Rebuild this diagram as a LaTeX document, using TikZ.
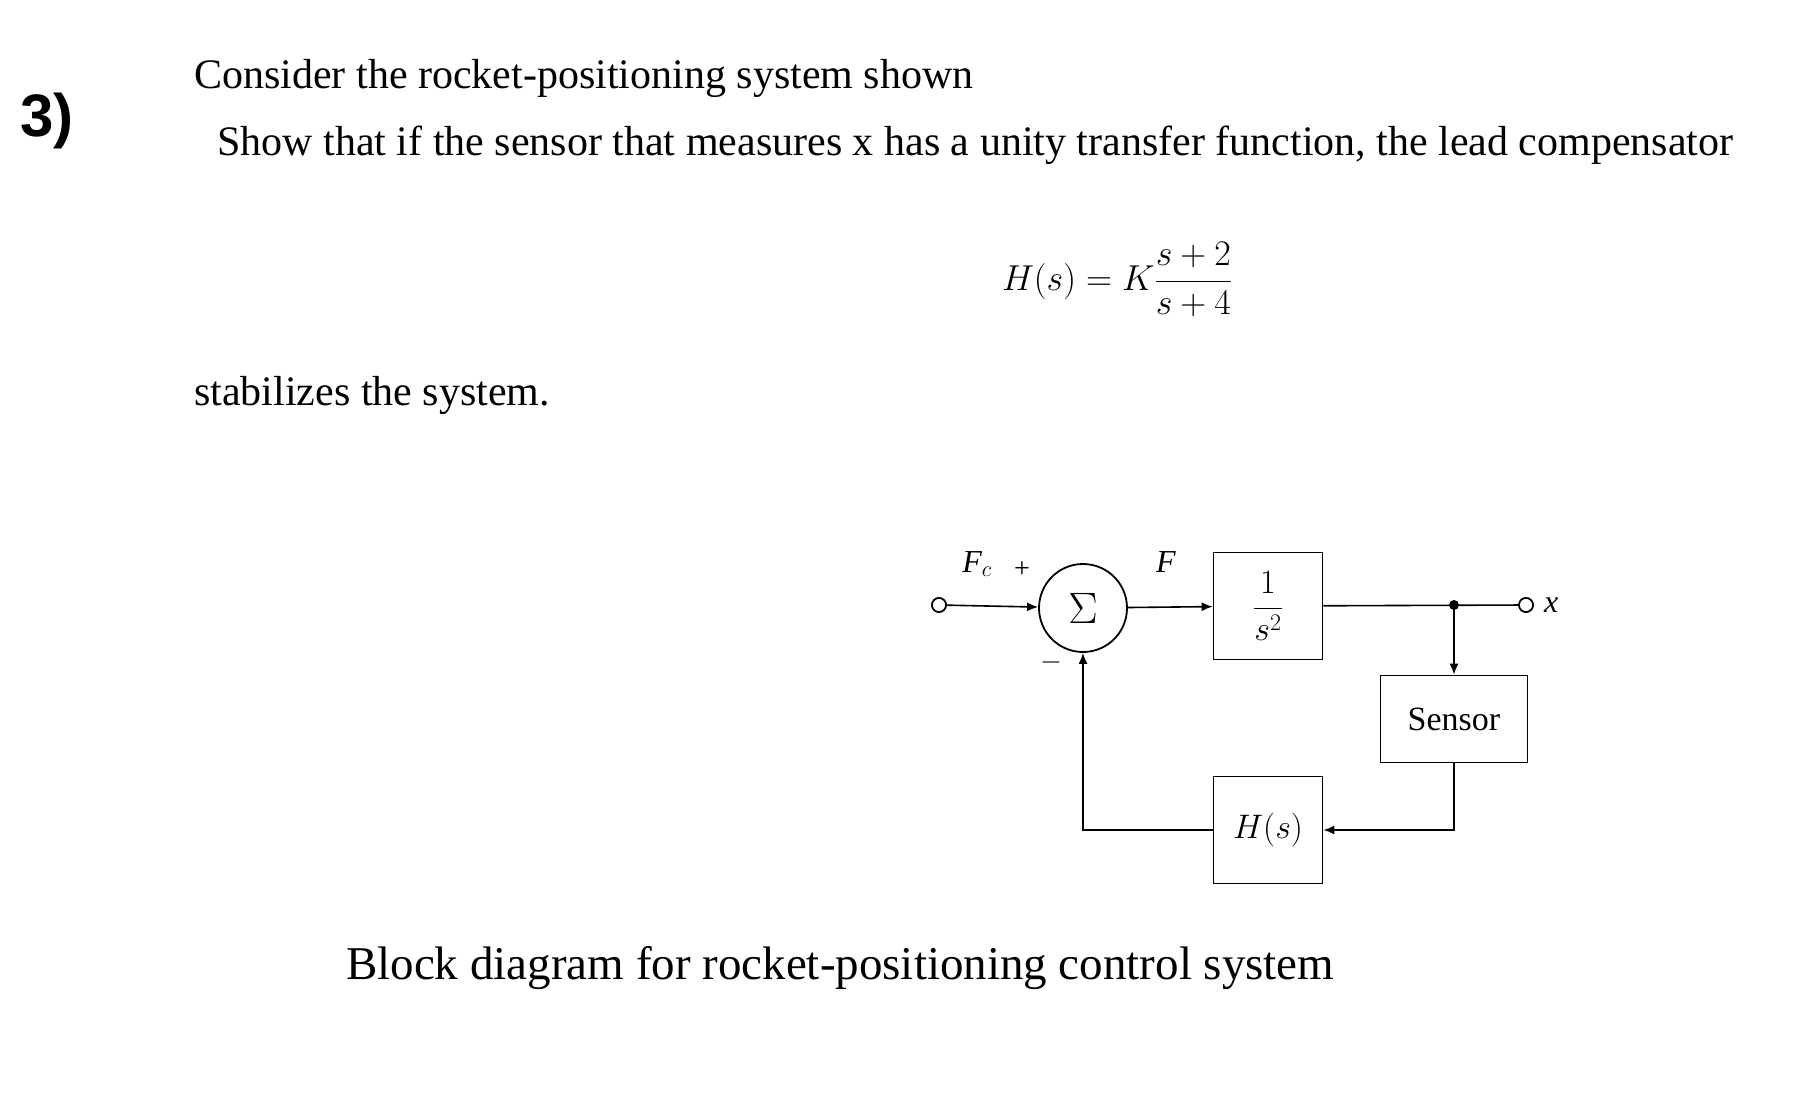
\documentclass[tikz,border=0pt]{standalone}
\usepackage{fix-cm}
\usepackage{amsmath}
\usepackage{fontspec}
\setmainfont{Liberation Serif}
\newfontfamily\numfont{Liberation Sans}
\usetikzlibrary{arrows.meta}
\begin{document}
\begin{tikzpicture}[x=1pt,y=-1pt,
  blk/.style={draw,line width=1.8pt,minimum width=109pt,minimum height=107pt,inner sep=0pt,font=\fontsize{34}{40}\selectfont},
  sig/.style={draw,circle,line width=1.8pt,minimum size=88pt,inner sep=0pt,font=\fontsize{44}{50}\selectfont},
  term/.style={draw,circle,line width=1.6pt,minimum size=14pt,inner sep=0pt,fill=white},
  wire/.style={line width=1.6pt},
  arr/.style={wire,-{Latex[length=11pt,width=9pt]}},
  txt/.style={anchor=west,inner sep=0pt,font=\fontsize{42}{50}\selectfont},
  lbl/.style={inner sep=0pt,font=\fontsize{32}{38}\selectfont\itshape}]
\useasboundingbox[fill=white] (0,0) rectangle (1797,1115);
\node[anchor=west,inner sep=0pt,font=\numfont\bfseries\fontsize{60}{70}\selectfont] (num) at (20,121) {3)};
\node[txt] (l1) at (194,78) {Consider the rocket-positioning system shown};
\node[txt] (l2) at (217,145) {Show that if the sensor that measures x has a unity transfer function, the lead compensator};
\node[inner sep=0pt,font=\fontsize{36}{42}\selectfont] (eq) at (1117,280) {$H(s) = K\dfrac{s+2}{s+4}$};
\node[txt] (l3) at (194,395) {stabilizes the system.};
\node[txt,font=\fontsize{47}{55}\selectfont] (cap) at (346,968) {Block diagram for rocket-positioning control system};
% diagram
\node[term] (in) at (939,605) {};
\node[sig] (sum) at (1083,608) {$\Sigma$};
\node[blk] (g) at (1268,606) {$\dfrac{1}{s^2}$};
\coordinate (j) at (1454,605);
\node[term] (out) at (1526,605) {};
\node[blk,minimum width=147pt,minimum height=87pt] (sen) at (1454,719) {Sensor};
\node[blk] (h) at (1268,830) {$H(s)$};
\node[lbl] at (977,564) {F$_c$};
\node[inner sep=0pt,font=\fontsize{28}{32}\selectfont] at (1022,570) {+};
\node[lbl] at (1166,562) {F};
\node[inner sep=0pt,font=\fontsize{28}{32}\selectfont] at (1051,662) {$-$};
\node[lbl,anchor=west] at (1544,605) {x};
\draw[arr] (in) -- (sum);
\draw[arr] (sum) -- (g);
\draw[wire] (g) -- (out);
\fill (j) circle (5pt);
\draw[arr] (j) -- (sen);
\draw[arr] (sen.south) |- (h.east);
\draw[arr] (h.west) -| (sum.south);
\node[term] at (939,605) {};
\node[term] at (1526,605) {};
\end{tikzpicture}
\end{document}
